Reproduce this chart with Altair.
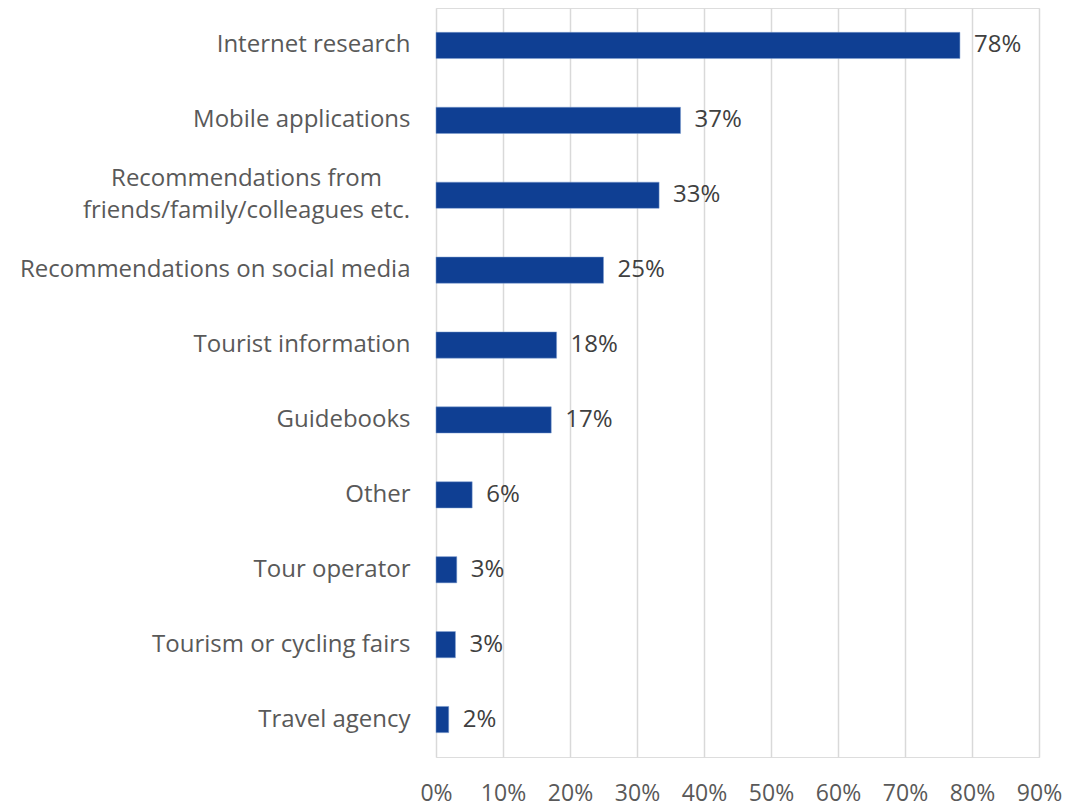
import altair as alt
import pandas as pd

categories = [
    "Internet research",
    "Mobile applications",
    "Recommendations from|friends/family/colleagues etc.",
    "Recommendations on social media",
    "Tourist information",
    "Guidebooks",
    "Other",
    "Tour operator",
    "Tourism or cycling fairs",
    "Travel agency",
]
values = [0.782, 0.365, 0.333, 0.25, 0.18, 0.172, 0.054, 0.031, 0.029, 0.019]
labels = ["78%", "37%", "33%", "25%", "18%", "17%", "6%", "3%", "3%", "2%"]

df = pd.DataFrame({"cat": categories, "val": values, "lab": labels})

FONT = "Open Sans"
FS = 24
W, H = 603, 749
MULTI = "indexof(datum.value, '|') >= 0"

y = alt.Y(
    "cat:N",
    sort=categories,
    title=None,
    scale=alt.Scale(paddingInner=0.65, paddingOuter=0.325),
    axis=alt.Axis(
        labelExpr="split(datum.label, '|')",
        labelFont=FONT,
        labelFontSize=FS,
        labelColor="#595959",
        labelPadding=alt.condition(MULTI, alt.value(190), alt.value(26)),
        labelAlign=alt.condition(MULTI, alt.value("center"), alt.value("right")),
        labelOffset=alt.condition(MULTI, alt.value(-16), alt.value(0)),
        ticks=False,
        domain=False,
        labelLimit=500,
        labelLineHeight=32,
    ),
)
x = alt.X(
    "val:Q",
    title=None,
    scale=alt.Scale(domain=[0, 0.9], nice=False),
    axis=alt.Axis(
        format=".0%",
        values=[i / 10 for i in range(10)],
        labelFont=FONT,
        labelFontSize=23,
        labelColor="#595959",
        labelPadding=25,
        labelFlush=False,
        ticks=False,
        domain=False,
        grid=True,
        gridColor="#d9d9d9",
        gridWidth=1.5,
    ),
)

bars = alt.Chart(df).mark_bar(color="#0F3F93", stroke="#7f9fd0", strokeWidth=0.5).encode(x=x, y=y)
text = alt.Chart(df).mark_text(
    align="left", baseline="middle", dx=14, font=FONT, fontSize=FS, color="#404040"
).encode(x="val:Q", y=alt.Y("cat:N", sort=categories), text="lab:N")

chart = (
    alt.layer(bars, text)
    .properties(
        width=W,
        height=H,
        autosize=alt.AutoSizeParams(type="none"),
        padding={"left": 428, "top": 0, "right": 24, "bottom": 52},
    )
    .configure_view(stroke=None)
    .configure(background="white")
)

chart.save("out.html", embed_options={"renderer": "svg", "actions": False})
